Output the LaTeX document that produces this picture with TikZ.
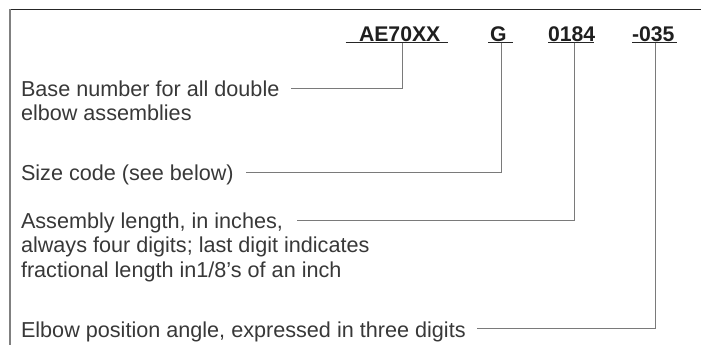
\documentclass[tikz,border=0pt]{standalone}
\usepackage{fontspec}
\setmainfont{Liberation Sans}
\usetikzlibrary{calc}
\definecolor{txt}{HTML}{383838}
\definecolor{leadc}{HTML}{7A7A7A}
\begin{document}
\begin{tikzpicture}[x=1bp,y=-1bp,
  lbl/.style={anchor=base west, inner sep=0pt, outer sep=0pt, text=txt, font=\fontsize{21.7}{24}\selectfont},
  code/.style={anchor=base west, inner sep=0pt, outer sep=0pt, text=black!88, font=\bfseries\fontsize{21.3}{24}\selectfont},
  leader/.style={draw=leadc, line width=1bp},
  uline/.style={draw=black!85, line width=1.2bp}]
\useasboundingbox (0,0) rectangle (701,345);
% frame
\draw[line width=1.4bp, black!85] (10,9.3) -- (701,9.3);
\draw[line width=1.3bp, black!50] (10,9.3) -- (10,345);
% header codes
\node[code] (ae) at (359,41.5) {AE70XX};
\node[code] (g) at (490,41.5) {G};
\node[code] (len) at (548,41.5) {0184};
\node[code] (ang) at (632,41.5) {-035};
\draw[uline] (345.7,42.5) -- (447.7,42.5);
\draw[uline] (488,42.5) -- (512.7,42.5);
\draw[uline] (548,42.5) -- (594,42.5);
\draw[uline] (632,42.5) -- (677,42.5);
\coordinate (aeU) at (402,42.5);
\coordinate (gU) at (501.7,42.5);
\coordinate (lenU) at (574,42.5);
\coordinate (angU) at (655.7,42.5);
% descriptions
\node[lbl] (t1) at (21,96) {Base number for all double};
\node[lbl] (t1b) at (21,120.5) {elbow assemblies};
\node[lbl] (t2) at (21,180) {Size code (see below)};
\node[lbl] (t3) at (21,228) {Assembly length, in inches,};
\node[lbl] (t3b) at (21,252.5) {always four digits; last digit indicates};
\node[lbl] (t3c) at (21,277) {fractional length in1/8’s of an inch};
\node[lbl] (t4) at (21,337) {Elbow position angle, expressed in three digits};
% leaders
\draw[leader] (aeU) |- ($(t1.base east)+(12,-8)$);
\draw[leader] (gU) |- ($(t2.base east)+(12,-8)$);
\draw[leader] (lenU) |- ($(t3.base east)+(14,-8)$);
\draw[leader] (angU) |- ($(t4.base east)+(11,-9)$);
\end{tikzpicture}
\end{document}
